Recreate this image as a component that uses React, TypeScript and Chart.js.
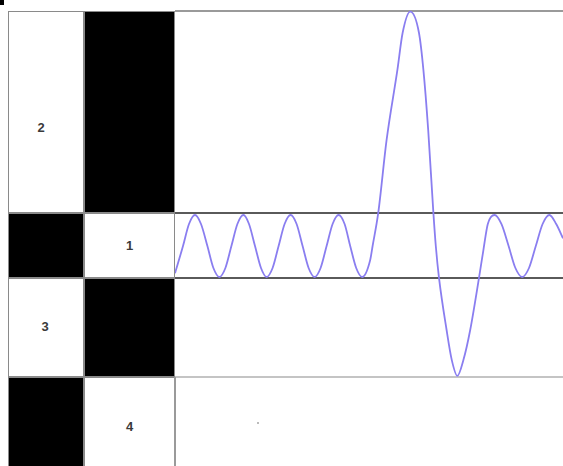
import React, { useEffect, useRef } from "react";
import { Chart, registerables } from "chart.js";

Chart.register(...registerables);

// Row labels (top to bottom) and which of the two left columns is black in each row
const rowLabels = ["2", "1", "3", "4"];
const blackColumn = [1, 0, 1, 0];

// Waveform samples: time (units) and amplitude (band edge = ±1)
const waveT = [
  0, 0.2, 0.35, 0.5, 0.65, 0.81, 0.96, 1.11, 1.26, 1.41, 1.56, 1.71, 1.85, 2.0, 2.15,
  2.29, 2.44, 2.59, 2.74, 2.89, 3.04, 3.19, 3.34, 3.49, 3.64, 3.79, 3.94, 4.09, 4.24,
  4.38, 4.53, 4.68, 4.88, 4.94, 5.08, 5.29, 5.56, 5.69, 5.88, 6.1, 6.21, 6.33,
  6.46, 6.52, 6.6, 6.79, 6.92, 7.06, 7.21, 7.38, 7.6, 7.71, 7.82, 7.99, 8.16, 8.34,
  8.51, 8.68, 8.85, 9.02, 9.19, 9.36, 9.53, 9.7,
];
const waveY = [
  -0.88, 0, 0.71, 1, 0.71, 0, -0.71, -1, -0.71, 0, 0.71, 1, 0.71, 0, -0.71,
  -1, -0.71, 0, 0.71, 1, 0.71, 0, -0.71, -1, -0.71, 0, 0.71, 1, 0.71,
  0, -0.71, -1, -0.45, 0, 1.06, 3.42, 5.68, 6.87, 7.56, 6.87, 5.68, 3.74,
  1.06, 0, -1.03, -2.71, -3.68, -4.19, -3.68, -2.71, -1.03, -0.13, 0.71, 1, 0.71, 0,
  -0.71, -1, -0.71, 0, 0.71, 1, 0.71, 0.25,
];

// Layout (page pixels)
const W = 563;
const H = 466;
const colEdges = [8, 84, 175, W];
const rowEdges = [11, 213, 278, 377, 480];
const labelShift = [{ x: -5, y: 15 }, { x: 0, y: 0 }, { x: -1, y: -1 }, { x: 0, y: -2 }];
const plotLeft = colEdges[2];
const plotWidth = W - plotLeft;
// Vertical mapping: band centre and pixels per amplitude unit
const bandCenter = 246;
const pxPerUnit = 31;
const pxPerT = 40;

export default function App() {
  const ref = useRef<HTMLCanvasElement | null>(null);

  useEffect(() => {
    if (!ref.current) return;
    const chart = new Chart(ref.current, {
      type: "line",
      data: {
        datasets: [
          {
            data: waveT.map((t, i) => ({ x: t, y: waveY[i] })),
            borderColor: "#8a7ef0",
            borderWidth: 1.8,
            pointRadius: 0,
            fill: false,
            cubicInterpolationMode: "monotone",
          },
        ],
      },
      options: {
        animation: false,
        responsive: false,
        maintainAspectRatio: false,
        devicePixelRatio: 1,
        layout: { padding: 0 },
        plugins: { legend: { display: false }, tooltip: { enabled: false } },
        scales: {
          x: { type: "linear", display: false, min: 0, max: plotWidth / pxPerT },
          y: {
            type: "linear",
            display: false,
            min: (bandCenter - H) / pxPerUnit,
            max: bandCenter / pxPerUnit,
          },
        },
      },
    });
    return () => chart.destroy();
  }, []);

  const cells: React.ReactNode[] = [];
  rowLabels.forEach((label, r) => {
    for (let c = 0; c < 2; c++) {
      const black = blackColumn[r] === c;
      cells.push(
        <div
          key={`c${r}-${c}`}
          style={{
            position: "absolute",
            left: colEdges[c],
            top: rowEdges[r],
            width: colEdges[c + 1] - colEdges[c],
            height: rowEdges[r + 1] - rowEdges[r],
            boxSizing: "border-box",
            border: "1px solid #8a8a8a",
            background: black ? "#000" : "#fff",
            display: "flex",
            alignItems: "center",
            justifyContent: "center",
            font: "bold 13px 'Liberation Sans', Arial, sans-serif",
            color: "#3a3a3a",
          }}
        >
          {black ? null : (
            <span style={{ position: "relative", left: labelShift[r].x, top: labelShift[r].y }}>{label}</span>
          )}
        </div>
      );
    }
  });

  const hLines = [
    { y: rowEdges[0], color: "#9a9a9a" },
    { y: rowEdges[1], color: "#5a5a5a" },
    { y: rowEdges[2], color: "#5a5a5a" },
    { y: rowEdges[3], color: "#c4c4c4" },
  ];

  return (
    <div>
      <style>{`body{margin:0;background:#fff}`}</style>
      <div style={{ position: "relative", width: W, height: H, overflow: "hidden", background: "#fff" }}>
        <div style={{ position: "absolute", left: 0, top: 0, width: 4, height: 5, background: "#000" }} />
        {cells}
        {hLines.map((l, i) => (
          <div
            key={`h${i}`}
            style={{
              position: "absolute",
              left: plotLeft,
              top: l.y - 1,
              width: plotWidth,
              height: 2,
              background: l.color,
            }}
          />
        ))}
        <div
          style={{
            position: "absolute",
            left: plotLeft - 1,
            top: rowEdges[3],
            width: 2,
            height: H - rowEdges[3],
            background: "#9a9a9a",
          }}
        />
        <div style={{ position: "absolute", left: 257, top: 422, width: 2, height: 2, background: "#bbb" }} />
        <canvas
          ref={ref}
          width={plotWidth}
          height={H}
          style={{ position: "absolute", left: plotLeft, top: 0, width: plotWidth, height: H }}
        />
      </div>
    </div>
  );
}
